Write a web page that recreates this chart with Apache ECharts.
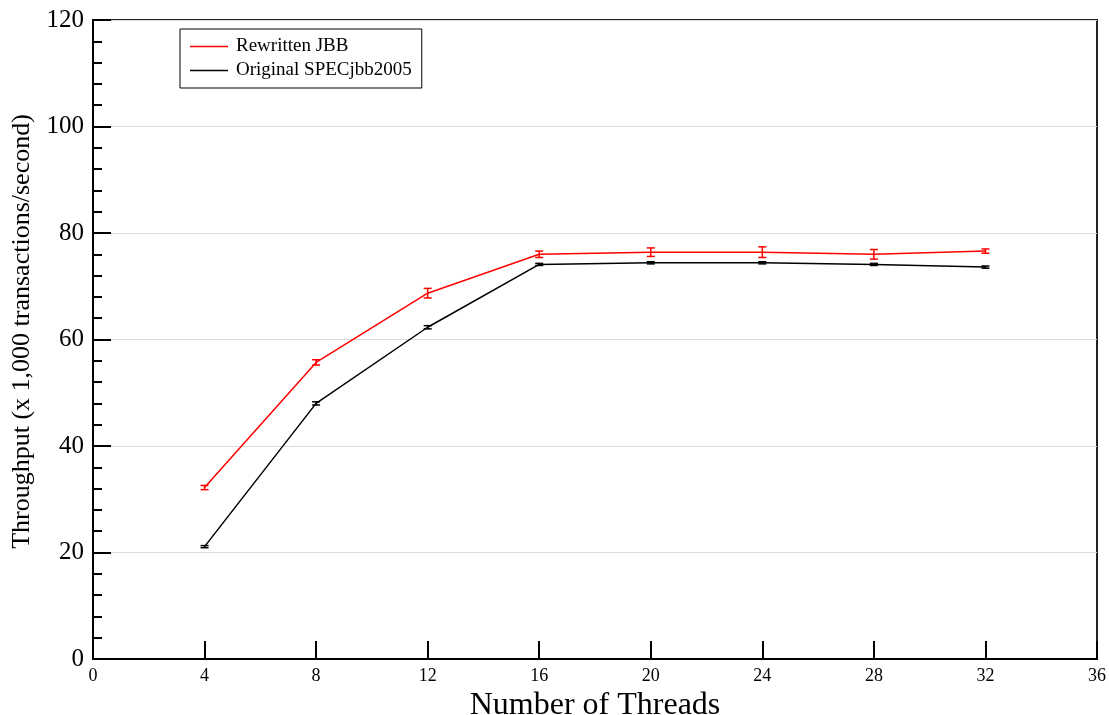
<!DOCTYPE html>
<html>
<head>
<meta charset="utf-8">
<script src="https://cdn.jsdelivr.net/npm/echarts@6/dist/echarts.min.js"></script>
<style>
html,body{margin:0;padding:0;background:#fff;}
#chart{width:1109px;height:715px;}
</style>
</head>
<body>
<div id="chart"></div>
<script>
const threads = [4, 8, 12, 16, 20, 24, 28, 32];
const rewritten = [32.2, 55.7, 68.7, 76.0, 76.4, 76.4, 76.0, 76.6];
const rewrittenErr = [0.4, 0.5, 0.9, 0.6, 0.8, 1.0, 0.9, 0.4];
const original = [21.1, 48.0, 62.3, 74.1, 74.4, 74.4, 74.1, 73.6];
const originalErr = [0.2, 0.3, 0.3, 0.2, 0.2, 0.2, 0.2, 0.2];
const seriesNames = ['Rewritten JBB', 'Original SPECjbb2005'];
const xTitle = 'Number of Threads';
const yTitle = 'Throughput (x 1,000 transactions/second)';

const FONT = 'Liberation Serif';
const chart = echarts.init(document.getElementById('chart'));

function pairs(ys) { return threads.map((x, i) => [x, ys[i]]); }
function errData(ys, es) { return threads.map((x, i) => [x, ys[i] - es[i], ys[i] + es[i]]); }
function errSeries(name, ys, es, color) {
  return {
    type: 'custom',
    name: name + ' err',
    data: errData(ys, es),
    z: 5,
    renderItem: function (params, api) {
      const x = api.value(0);
      const lo = api.coord([x, api.value(1)]);
      const hi = api.coord([x, api.value(2)]);
      const w = 4;
      const st = { stroke: color, lineWidth: 1.5 };
      return {
        type: 'group',
        children: [
          { type: 'line', shape: { x1: lo[0], y1: lo[1], x2: hi[0], y2: hi[1] }, style: st },
          { type: 'line', shape: { x1: lo[0] - w, y1: lo[1], x2: lo[0] + w, y2: lo[1] }, style: st },
          { type: 'line', shape: { x1: hi[0] - w, y1: hi[1], x2: hi[0] + w, y2: hi[1] }, style: st }
        ]
      };
    },
    silent: true
  };
}

chart.setOption({
  backgroundColor: '#fff',
  animation: false,
  grid: {
    left: 93, right: 12, top: 20, bottom: 56, containLabel: false,
    outerBoundsMode: 'none',
    show: true, borderColor: '#222', borderWidth: 2, backgroundColor: 'transparent'
  },
  legend: {
    left: 180, top: 29,
    orient: 'vertical',
    data: seriesNames.map(n => ({ name: n, icon: 'rect' })),
    backgroundColor: '#fff',
    borderColor: '#000', borderWidth: 1, borderRadius: 0,
    padding: [8, 10, 8, 10],
    itemWidth: 38, itemHeight: 1.5, itemGap: 5,
    textStyle: { fontFamily: FONT, fontSize: 19, color: '#000', padding: [0, 0, 0, 3] }
  },
  xAxis: {
    type: 'value', min: 0, max: 36, interval: 4,
    name: xTitle, nameLocation: 'middle', nameGap: 28,
    nameTextStyle: { fontFamily: FONT, fontSize: 32, color: '#000' },
    axisLine: { show: true, onZero: false, lineStyle: { color: '#000', width: 2 } },
    axisTick: { show: true, inside: true, length: 18, lineStyle: { color: '#000', width: 2 } },
    axisLabel: { fontFamily: FONT, fontSize: 18, color: '#000', margin: 8 },
    splitLine: { show: false }
  },
  yAxis: {
    type: 'value', min: 0, max: 120, interval: 20,
    name: yTitle, nameLocation: 'middle', nameGap: 49,
    nameTextStyle: { fontFamily: FONT, fontSize: 26, color: '#000', padding: [0, 0, 0, 16] },
    axisLine: { show: true, onZero: false, lineStyle: { color: '#000', width: 2 } },
    axisTick: { show: true, inside: true, length: 18, lineStyle: { color: '#000', width: 2 } },
    minorTick: { show: true, splitNumber: 5, length: 9, lineStyle: { color: '#000', width: 2 } },
    axisLabel: { fontFamily: FONT, fontSize: 25, color: '#000', margin: 9 },
    splitLine: { show: true, lineStyle: { color: '#dcdcdc', width: 1 } }
  },
  series: [
    {
      type: 'line', name: seriesNames[0], data: pairs(rewritten),
      symbol: 'none', lineStyle: { color: '#ff0000', width: 1.5 }, itemStyle: { color: '#ff0000' }, z: 4
    },
    {
      type: 'line', name: seriesNames[1], data: pairs(original),
      symbol: 'none', lineStyle: { color: '#000', width: 1.5 }, itemStyle: { color: '#000' }, z: 4
    },
    errSeries(seriesNames[0], rewritten, rewrittenErr, '#ff0000'),
    errSeries(seriesNames[1], original, originalErr, '#000')
  ]
});
</script>
</body>
</html>
